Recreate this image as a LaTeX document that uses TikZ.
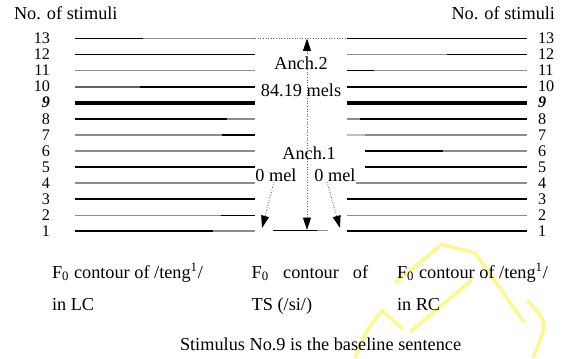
\documentclass[tikz,border=0pt]{standalone}
\usepackage{fontspec}
\setmainfont{Liberation Serif}
\usetikzlibrary{arrows.meta}
\colorlet{lineGray}{black!45}
\colorlet{dotGray}{black!60}
\definecolor{markYellow}{RGB}{255,247,140}
\tikzset{
numstyle/.style={inner sep=0pt, outer sep=0pt, font=\fontsize{9.2}{9.5}\selectfont},
textstyle/.style={inner sep=0pt, outer sep=0pt, anchor=base west},
tipstyle/.style={densely dotted, dotGray, line width=0.5pt, -{Triangle[width=4.5pt,length=7pt,black]}},
markstyle/.style={markYellow, line width=2pt}
}
\newcommand{\stim}[6]{
  \draw[#5, line width=0.8pt] (#2,#1) -- (#3,#1);
  \draw[#6, line width=0.8pt] (#3,#1) -- (#4,#1);
}
\newcommand{\stimthick}[3]{
  \draw[black, line width=2.3pt] (#2,#1) -- (#3,#1);
}
\begin{document}
\begin{tikzpicture}[x=0.02cm, y=-0.02cm, inner sep=0, outer sep=0, font=\fontsize{10.4}{12.5}\selectfont]
\useasboundingbox (0,0) rectangle (567,358);

\draw[markstyle] (355,358) .. controls (365,332) .. (382,311) -- (403,329);
\draw[markstyle] (395,283) -- (440,246);
\draw[markstyle] (440,244) -- (475,253);
\draw[markstyle] (410,332) -- (472,280);
\draw[markstyle] (475,253) -- (524,322);
\draw[markstyle] (527,300) .. controls (548,322) .. (533,358);

\stim {38.5} {75.0} {143.0} {255.0} {black} {lineGray}
\stim {54.6} {75.0} {143.0} {255.0} {black} {black}
\stim {70.6} {75.0} {143.0} {255.0} {lineGray} {lineGray}
\stim {86.9} {75.0} {140.0} {255.0} {lineGray!70!black} {black}
\stimthick {103.0} {75.0} {255.0}
\stim {118.9} {75.0} {227.0} {255.0} {black} {lineGray}
\stim {134.9} {75.0} {222.0} {255.0} {lineGray} {black}
\stim {150.9} {75.0} {222.0} {255.0} {lineGray} {lineGray}
\stim {166.8} {75.0} {222.0} {255.0} {black} {black}
\stim {182.8} {75.0} {135.0} {255.0} {lineGray} {lineGray}
\stim {199.0} {75.0} {135.0} {255.0} {black} {black}
\stim {215.3} {75.0} {221.0} {255.0} {lineGray} {black}
\stim {231.0} {75.0} {213.0} {255.0} {black} {lineGray}

\stim {38.5} {347.0} {447.0} {527.0} {black} {black}
\stim {54.6} {347.0} {447.0} {527.0} {lineGray} {black}
\stim {70.6} {347.0} {374.0} {527.0} {black} {lineGray}
\stim {86.9} {347.0} {447.0} {527.0} {black} {black}
\stimthick {103.0} {347.0} {527.0}
\stim {118.9} {347.0} {360.0} {527.0} {lineGray} {black}
\stim {134.9} {347.0} {365.0} {527.0} {black!25} {lineGray}
\stim {150.9} {365.0} {443.0} {527.0} {black} {lineGray}
\stim {166.8} {365.0} {443.0} {527.0} {black} {black}
\stim {182.8} {356.0} {443.0} {527.0} {lineGray} {lineGray}
\stim {199.0} {347.0} {443.0} {527.0} {black} {black}
\stim {215.3} {347.0} {443.0} {527.0} {lineGray} {lineGray}
\stim {231.0} {347.0} {443.0} {527.0} {black} {black}

\stim {230.5} {273.0} {317.0} {328.0} {black} {lineGray}
\draw[densely dotted, dotGray, line width=0.5pt] (255.0,38.5) -- (347.0,38.5);

\foreach \n in {1,...,13}
{
  \pgfmathsetmacro{\rowy}{231.0 - (\n - 1) * 16.04}
  \ifnum\n=9
    \node [numstyle, anchor=east] (numL\n) at (50.0, \rowy) {\textbf{\textit{\n}}};
    \node [numstyle, anchor=west] (numR\n) at (538.0, \rowy) {\textbf{\textit{\n}}};
  \else
    \node [numstyle, anchor=east] (numL\n) at (50.0, \rowy) {\n};
    \node [numstyle, anchor=west] (numR\n) at (538.0, \rowy) {\n};
  \fi
}

\node [textstyle] (headL) at (14.0, 19.5) {No. of stimuli};
\node [textstyle] (headR) at (451.5, 19.5) {No. of stimuli};

\node (anchTwo) at (301.0, 63.0) {Anch.2};
\node (melsTwo) at (301.0, 90.0) {84.19 mels};
\node (anchOne) at (309.0, 153.0) {Anch.1};
\node (melL) at (276.0, 175.5) {0 mel};
\node (melR) at (335.0, 175.5) {0 mel};

\coordinate (topTip) at (307.0, 38.5);
\coordinate (botTip) at (307.0, 230.0);
\coordinate (leftTip) at (262.0, 228.0);
\coordinate (rightTip) at (340.0, 228.0);
\draw [tipstyle, {Triangle[width=4.5pt,length=7pt,black]}-{Triangle[width=4.5pt,length=7pt,black]}] (topTip) -- (botTip);
\draw [tipstyle] (melL.south) ++(-2,0) -- (leftTip);
\draw [tipstyle] (melR.south) ++(-8,0) -- (rightTip);

\node [textstyle] (leftA) at (52.0, 278.3) {F\textsubscript{0} contour of /teng\textsuperscript{1}/};
\node [textstyle] (leftB) at (52.0, 310.0) {in LC};
\node [textstyle] (midA) at (251.7, 278.3) {\makebox[2.33cm][s]{F\textsubscript{0} contour of}};
\node [textstyle] (midB) at (251.7, 310.0) {TS (/si/)};
\node [textstyle] (rightA) at (397.0, 278.3) {F\textsubscript{0} contour of /teng\textsuperscript{1}/};
\node [textstyle] (rightB) at (397.0, 310.0) {in RC};
\node [textstyle] (note) at (180.0, 350.0) {Stimulus No.9 is the baseline sentence};

\end{tikzpicture}
\end{document}
